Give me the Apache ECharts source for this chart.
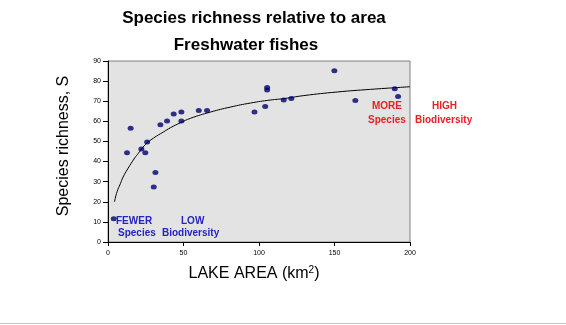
<!DOCTYPE html>
<html>
<head>
<meta charset="utf-8">
<script src="https://cdn.jsdelivr.net/npm/echarts@6/dist/echarts.min.js"></script>
<style>
html,body{margin:0;padding:0;background:#fff;}
#chart{width:566px;height:325px;}
</style>
</head>
<body>
<div id="chart"></div>
<script>
// Lake area (km2) and species richness for each lake
const lakeArea = [3.8, 12.6, 15.0, 22.1, 24.7, 25.9, 30.3, 31.4, 34.7, 39.1, 43.5, 48.6, 48.6, 60.1, 65.6, 97.0, 104.1, 105.4, 105.4, 116.4, 121.4, 149.9, 163.8, 189.9, 192.1];
const speciesRichness = [11.6, 44.4, 56.5, 46.2, 44.4, 49.7, 27.4, 34.5, 58.3, 60.2, 63.6, 64.6, 60.2, 65.4, 65.4, 64.6, 67.4, 75.6, 76.8, 70.6, 71.4, 85.2, 70.4, 76.2, 72.3];
// Trend curve
const trendX = [4.3, 6, 8.2, 10, 13, 17.7, 20, 24.7, 30, 36.9, 41.3, 48, 54.6, 67.8, 81.1, 94.4, 107.6, 116.5, 129.7, 151.9, 173.9, 200];
const trendY = [20.0, 25.0, 29.0, 32.3, 36.3, 41.8, 44.0, 48.4, 51.6, 54.8, 56.8, 59.3, 61.5, 64.6, 67.1, 69.1, 70.6, 71.3, 72.8, 74.6, 75.9, 77.2];
const xTicks = [0, 50, 100, 150, 200];
const yTicks = [0, 10, 20, 30, 40, 50, 60, 70, 80, 90];

const chart = echarts.init(document.getElementById('chart'), null, {renderer: 'canvas'});
const font = 'Arial, "Liberation Sans", sans-serif';

chart.setOption({
  animation: false,
  backgroundColor: '#ffffff',
  grid: {
    left: 108, top: 61, width: 302, height: 181,
    show: true, backgroundColor: '#e3e3e3', borderColor: '#808080', borderWidth: 1
  },
  xAxis: {
    type: 'value', min: xTicks[0], max: xTicks[xTicks.length - 1], interval: 50,
    axisLine: {show: true, onZero: false, lineStyle: {color: '#000', width: 1}},
    axisTick: {show: true, length: 4, lineStyle: {color: '#000'}},
    axisLabel: {fontSize: 7, color: '#000', margin: 8, fontFamily: font},
    splitLine: {show: false}
  },
  yAxis: {
    type: 'value', min: yTicks[0], max: yTicks[yTicks.length - 1], interval: 10,
    axisLine: {show: true, onZero: false, lineStyle: {color: '#000', width: 1}},
    axisTick: {show: true, length: 5, lineStyle: {color: '#000'}},
    axisLabel: {fontSize: 7, color: '#000', margin: 7, fontFamily: font},
    splitLine: {show: false}
  },
  series: [
    {
      type: 'line', smooth: true, showSymbol: false, symbol: 'none',
      lineStyle: {color: '#000', width: 1},
      data: trendX.map((x, i) => [x, trendY[i]]),
      z: 2
    },
    {
      type: 'scatter', symbol: 'circle', symbolSize: [6, 5],
      itemStyle: {color: '#00006e'},
      data: lakeArea.map((x, i) => [x, speciesRichness[i]]),
      z: 3
    }
  ],
  graphic: [
    {type: 'text', x: 254, y: 18, style: {text: 'Species richness relative to area', font: 'bold 17px ' + font, fill: '#000', align: 'center', verticalAlign: 'middle'}},
    {type: 'text', x: 246, y: 45, style: {text: 'Freshwater fishes', font: 'bold 17px ' + font, fill: '#000', align: 'center', verticalAlign: 'middle'}},
    {type: 'text', x: 64, y: 146, rotation: Math.PI / 2, style: {text: 'Species richness, S', font: '16px ' + font, fill: '#000', align: 'center', verticalAlign: 'middle'}},
    {type: 'text', x: 254, y: 274, style: {
      text: 'LAKE AREA (km{s|2})', font: '16px ' + font, fill: '#000', align: 'center', verticalAlign: 'middle',
      rich: {s: {fontSize: 10, fontFamily: font, fill: '#000', padding: [0, 0, 8, 0]}}
    }},
    {type: 'text', x: 116, y: 221, style: {text: 'FEWER', font: 'bold 10px ' + font, fill: '#2424c0', verticalAlign: 'middle'}},
    {type: 'text', x: 118, y: 233, style: {text: 'Species', font: 'bold 10px ' + font, fill: '#2424c0', verticalAlign: 'middle'}},
    {type: 'text', x: 181, y: 221, style: {text: 'LOW', font: 'bold 10px ' + font, fill: '#2424c0', verticalAlign: 'middle'}},
    {type: 'text', x: 162, y: 233, style: {text: 'Biodiversity', font: 'bold 10px ' + font, fill: '#2424c0', verticalAlign: 'middle'}},
    {type: 'text', x: 372, y: 106, style: {text: 'MORE', font: 'bold 10px ' + font, fill: '#ee1c24', verticalAlign: 'middle'}},
    {type: 'text', x: 368, y: 120, style: {text: 'Species', font: 'bold 10px ' + font, fill: '#ee1c24', verticalAlign: 'middle'}},
    {type: 'text', x: 432, y: 106, style: {text: 'HIGH', font: 'bold 10px ' + font, fill: '#ee1c24', verticalAlign: 'middle'}},
    {type: 'text', x: 415, y: 120, style: {text: 'Biodiversity', font: 'bold 10px ' + font, fill: '#ee1c24', verticalAlign: 'middle'}},
    {type: 'line', shape: {x1: 0, y1: 323.5, x2: 566, y2: 323.5}, style: {stroke: '#c4c4c8', lineWidth: 1}}
  ]
});
</script>
</body>
</html>
